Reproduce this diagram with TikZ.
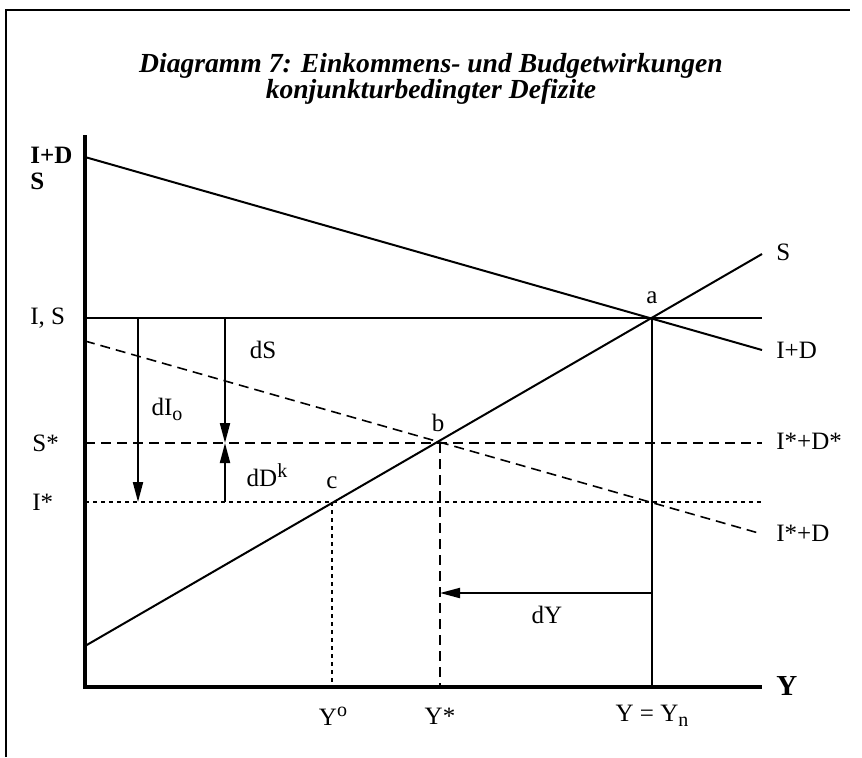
\documentclass[tikz,border=0pt]{standalone}
\usepackage{fontspec}
\setmainfont{Liberation Serif}
\usetikzlibrary{arrows.meta,calc,positioning}
\newcommand{\lowidx}[1]{\raisebox{-0.45ex}{\fontsize{10}{10}\selectfont #1}}
\newcommand{\highidx}[1]{\raisebox{0.75ex}{\fontsize{10}{10}\selectfont #1}}

\begin{document}
\begin{tikzpicture}[x=0.5pt,y=-0.5pt,>={Triangle[length=10pt,width=5pt]},
  lbl/.style={font=\fontsize{12.5}{13}\selectfont,inner sep=1pt},
  bold/.style={font=\fontsize{12.5}{13}\selectfont\bfseries,inner sep=1pt},
  axis/.style={line width=1.6pt},
  curve/.style={line width=1pt},
  dashline/.style={line width=0.8pt,dash pattern=on 5pt off 3pt},
  dotline/.style={line width=0.7pt,dash pattern=on 2pt off 2pt}]
\useasboundingbox (0,0) rectangle (862,757);
% frame and title
\draw[line width=1.2pt] (6,757) -- (6,10) -- (850,10);
\node[font=\fontsize{13.8}{13}\selectfont\bfseries\itshape,align=center] (title) at (431,79)
  {Diagramm 7: Einkommens- und Budgetwirkungen\\konjunkturbedingter Defizite};
% points
\coordinate (O) at (85,687); \coordinate (ytop) at (85,135); \coordinate (xend) at (762,687);
\coordinate (a) at (652,318); \coordinate (b) at (440,443); \coordinate (c) at (332,502);
\coordinate (IDl) at (85,157); \coordinate (IDr) at (762,350);
\coordinate (Sl) at (85,646); \coordinate (Sr) at (762,254);
\coordinate (ISl) at (85,318); \coordinate (ISr) at (762,318);
\coordinate (SSl) at (85,443); \coordinate (SSr) at (762,443);
\coordinate (ISSl) at (85,502); \coordinate (ISSr) at (762,502);
\coordinate (IDSl) at (85,341); \coordinate (IDSr) at (762,534);
% lines
\draw[curve] (IDl) -- (IDr);
\draw[curve] (Sl) -- (Sr);
\draw[curve] (ISl) -- (ISr);
\draw[dashline] (SSl) -- (SSr);
\draw[dotline] (ISSl) -- (ISSr);
\draw[dashline] (IDSl) -- (IDSr);
\draw[curve] (a) -- (a |- O);
\draw[dashline] (b) -- (b |- O);
\draw[dotline] (c) -- (c |- O);
\draw[axis] (ytop) -- (O) -- (xend);
% arrows
\draw[->,curve] (138,318) coordinate (dIs) -- (138,502) coordinate (dIe);
\draw[->,curve] (225,318) coordinate (dSs) -- (225,443) coordinate (dSe);
\draw[->,curve] (225,502) coordinate (dDs) -- (225,443) coordinate (dDe);
\draw[->,curve] (652,593) coordinate (dYs) -- (440,593) coordinate (dYe);
% labels in the plot
\node[lbl] (ldS) at (263,350) {dS};
\node[lbl] (ldI) at (167,409) {dI\lowidx{o}};
\node[lbl] (ldD) at (267,475) {dD\highidx{k}};
\node[lbl] (ldY) at (547,615) {dY};
\node[lbl] (la) at (652,298) {a};
\node[lbl] (lb) at (438,423) {b};
\node[lbl] (lc) at (332,483) {c};
% axis labels
\node[bold,anchor=west,align=left] (lID) at (28,168) {I+D\\S};
\node[lbl,anchor=west] (lIS) at (28,318) {I, S};
\node[lbl,anchor=west] (lSS) at (30,443) {S*};
\node[lbl,anchor=west] (lIS2) at (30,502) {I*};
\node[lbl,anchor=west] (rS) at (774,252) {S};
\node[lbl,anchor=west] (rID) at (774,350) {I+D};
\node[lbl,anchor=west] (rIDS) at (774,441) {I*+D*};
\node[lbl,anchor=west] (rIDD) at (774,533) {I*+D};
\node[bold,anchor=west,font=\fontsize{14.5}{14}\selectfont\bfseries] (rY) at (774,686) {Y};
\node[lbl] (bYo) at (333,716) {Y\highidx{o}};
\node[lbl] (bYs) at (440,716) {Y*};
\node[lbl] (bYn) at (652,716) {Y = Y\lowidx{n}};
\end{tikzpicture}
\end{document}
